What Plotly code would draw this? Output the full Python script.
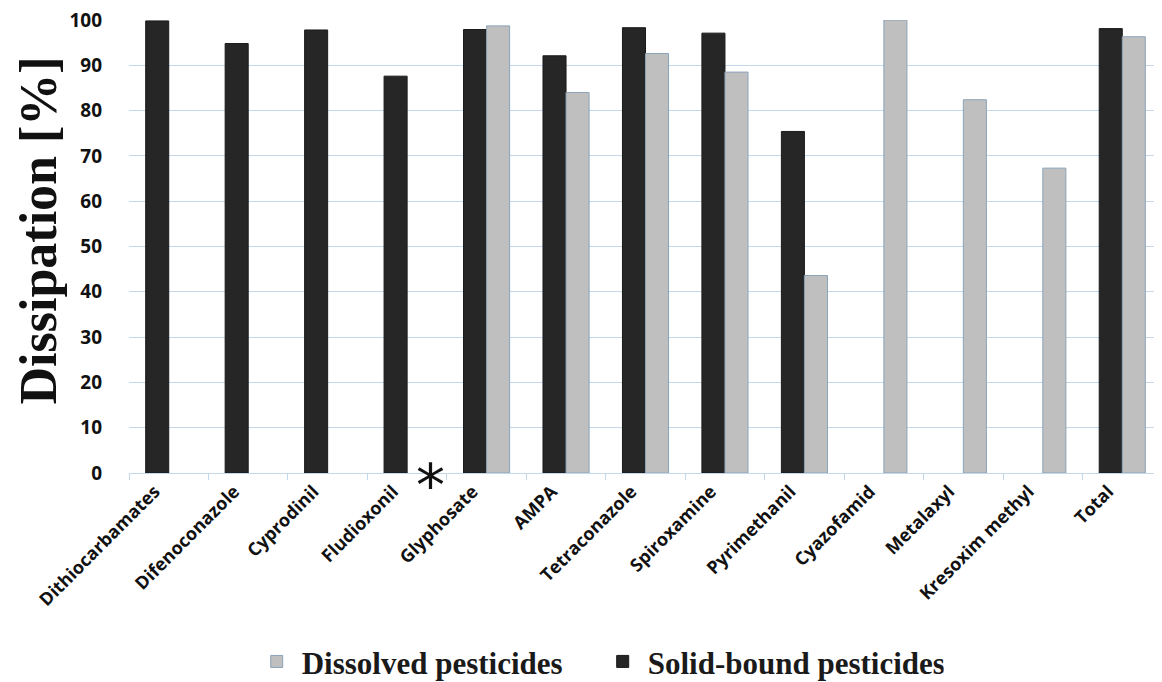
import plotly.graph_objects as go

# pesticide categories on the x axis
categories = ["Dithiocarbamates", "Difenoconazole", "Cyprodinil", "Fludioxonil",
              "Glyphosate", "AMPA", "Tetraconazole", "Spiroxamine", "Pyrimethanil",
              "Cyazofamid", "Metalaxyl", "Kresoxim methyl", "Total"]

# dissipation [%]
solid_bound = [99.8, 94.8, 97.8, 87.6, 97.9, 92.1, 98.3, 97.1, 75.4,
               None, None, None, 98.1]
dissolved = [None, None, None, None, 98.7, 84.0, 92.6, 88.5, 43.6,
             100.0, 82.4, 67.3, 96.3]

y_ticks = [0, 10, 20, 30, 40, 50, 60, 70, 80, 90, 100]

grid_blue = "#c3d8ea"

# the page body adds an 8px margin, so the figure is drawn 8px smaller
W, H = 1154, 674

fig = go.Figure()

# solid-bound first so it sits on the left of each pair
fig.add_trace(go.Bar(
    x=categories, y=solid_bound,
    name="Solid-bound pesticides",
    marker=dict(color="#262626", line=dict(color="#1a1a1a", width=1)),
))
fig.add_trace(go.Bar(
    x=categories, y=dissolved,
    name="Dissolved pesticides",
    marker=dict(color="#bfbfbf", line=dict(color="#8aa3b8", width=1)),
))

# asterisk: no dissolved value for Fludioxonil
fig.add_annotation(
    x="Fludioxonil", y=0, xshift=23, yshift=-13,
    text="*", showarrow=False,
    font=dict(family="DejaVu Sans", size=58, color="#111111"),
)

# y axis title, placed by hand to sit like the original
fig.add_annotation(
    xref="paper", yref="paper", x=0, y=0.5,
    xshift=-91, yshift=16,
    xanchor="center", yanchor="middle",
    text="Dissipation [%]", textangle=-90, showarrow=False,
    font=dict(family="Liberation Serif", size=52, color="#111111", weight="bold"),
)

fig.update_layout(
    width=W, height=H,
    barmode="group",
    bargap=0.42, bargroupgap=0,
    paper_bgcolor="white",
    plot_bgcolor="white",
    margin=dict(l=121, r=0, t=12, b=209, autoexpand=False),
    showlegend=True,
    legend=dict(
        orientation="h",
        traceorder="reversed",
        xref="container", x=0.511, xanchor="center",
        yref="container", y=0.03, yanchor="middle",
        font=dict(family="Liberation Serif", size=31, color="#1a1a1a", weight="bold"),
        itemwidth=40,
        entrywidth=291,
    ),
    xaxis=dict(
        type="category",
        range=[-0.5, 12.5],
        automargin=False,
        tickangle=-45,
        tickfont=dict(family="Open Sans", size=18, color="#111111", weight="bold"),
        ticklabelshift=-14,
        tickson="boundaries",
        ticks="outside", ticklen=6, tickcolor=grid_blue,
        showline=True, linecolor=grid_blue, linewidth=1,
        showgrid=False,
    ),
    yaxis=dict(
        range=[0, 100],
        automargin=False,
        tickvals=y_ticks,
        tickfont=dict(family="Open Sans", size=19, color="#111111", weight="bold"),
        ticklabeloverflow="allow",
        showgrid=True, gridcolor=grid_blue, gridwidth=1,
        zeroline=False,
        ticklabelstandoff=26,
    ),
)

fig.write_html("out.html")
